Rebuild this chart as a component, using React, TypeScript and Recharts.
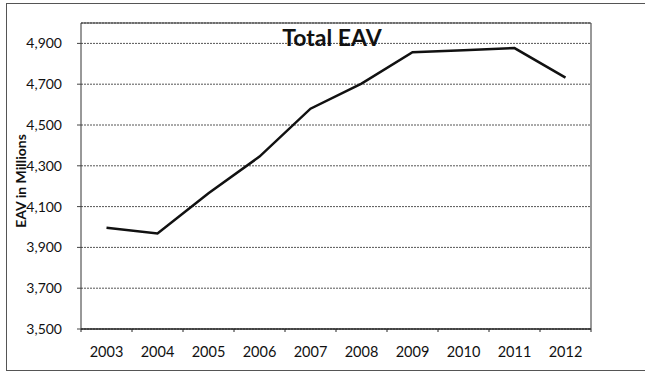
import { LineChart, Line, XAxis, YAxis, CartesianGrid } from "recharts";

const years = ["2003", "2004", "2005", "2006", "2007", "2008", "2009", "2010", "2011", "2012"];
const eav = [3996, 3968, 4165, 4345, 4580, 4703, 4857, 4867, 4877, 4732];
const yTicks = [3500, 3700, 3900, 4100, 4300, 4500, 4700, 4900];

const data = years.map((y, i) => ({ year: y, eav: eav[i] }));

const font = "Lato, 'Open Sans', sans-serif";
const half = 25.5;

function YearTick(props: any) {
  const { x, y, payload, index } = props;
  const top = y - 8;
  return (
    <g>
      <line x1={x - half} y1={top} x2={x - half} y2={top + 3} stroke="#222" />
      {index === years.length - 1 && (
        <line x1={x + half} y1={top} x2={x + half} y2={top + 3} stroke="#222" />
      )}
      <text x={x} y={y + 20} textAnchor="middle" fontSize={14.5} fill="#111" fontFamily={font}>
        {payload.value}
      </text>
    </g>
  );
}

export default function App() {
  return (
    <div style={{ position: "absolute", left: 0, top: 0, width: 645, height: 372, background: "#fff", overflow: "hidden" }}>
      <div
        style={{
          position: "absolute",
          left: 6,
          top: 3,
          width: 645,
          height: 366,
          border: "1px solid #555",
          borderRight: "none",
        }}
      />
      <LineChart
        width={645}
        height={372}
        data={data}
        margin={{ top: 23, right: 54, bottom: 13, left: 6 }}
        style={{ position: "absolute", left: 0, top: 0 }}
      >
        <CartesianGrid vertical={false} stroke="#555" strokeDasharray="2 1" />
        <CartesianGrid horizontalPoints={[23]} verticalPoints={[591]} stroke="#333" />
        <XAxis
          dataKey="year"
          height={30}
          padding={{ left: half, right: half }}
          tickLine={false}
          axisLine={{ stroke: "#222", strokeWidth: 1.5 }}
          tick={<YearTick />}
          interval={0}
        />
        <YAxis
          domain={[3500, 5000]}
          ticks={yTicks}
          width={75}
          tickSize={4}
          tickMargin={15}
          tickLine={{ stroke: "#444" }}
          axisLine={{ stroke: "#333" }}
          tickFormatter={(v: number) => v.toLocaleString("en-US")}
          tick={{ fontSize: 14, fill: "#111", fontFamily: font }}
          label={{
            content: ({ viewBox }: any) => {
              const cy = viewBox.y + viewBox.height / 2 + 5;
              return (
                <text
                  x={20}
                  y={cy}
                  transform={`rotate(-90, 20, ${cy})`}
                  textAnchor="middle"
                  dominantBaseline="central"
                  fontSize={14}
                  fontWeight="bold"
                  fill="#111"
                  fontFamily={font}
                >
                  EAV in Millions
                </text>
              );
            },
          }}
        />
        <Line
          type="linear"
          dataKey="eav"
          stroke="#111"
          strokeWidth={2.5}
          dot={false}
          isAnimationActive={false}
        />
      </LineChart>
      <div
        style={{
          position: "absolute",
          left: 232,
          width: 200,
          top: 24,
          textAlign: "center",
          fontFamily: font,
          fontWeight: "bold",
          fontSize: 23,
          lineHeight: "26px",
          color: "#111",
        }}
      >
        Total EAV
      </div>
    </div>
  );
}
